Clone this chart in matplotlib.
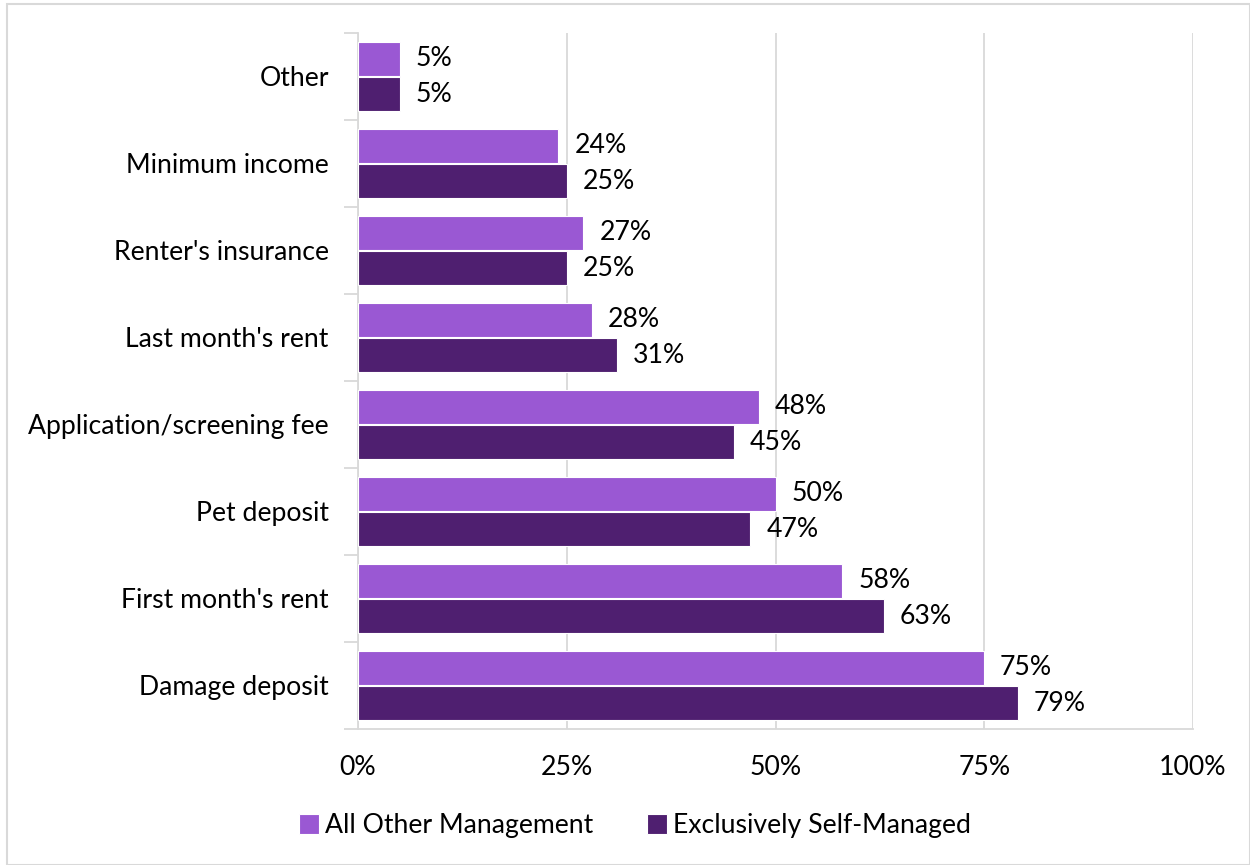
import matplotlib
matplotlib.use("Agg")
import matplotlib.pyplot as plt
from matplotlib.patches import Rectangle
import numpy as np

categories = ["Damage deposit", "First month's rent", "Pet deposit",
              "Application/screening fee", "Last month's rent",
              "Renter's insurance", "Minimum income", "Other"]
all_other = [75, 58, 50, 48, 28, 27, 24, 5]
self_managed = [79, 63, 47, 45, 31, 25, 25, 5]
series_names = ["All Other Management", "Exclusively Self-Managed"]
xticks = [0, 25, 50, 75, 100]
xtick_labels = ["0%", "25%", "50%", "75%", "100%"]

c_light = "#9A58D3"
c_dark = "#4F1F70"
grid_c = "#D9D9D9"
FS = 19.2

plt.rcParams['font.family'] = ['Lato', 'DejaVu Sans']

fig = plt.figure(figsize=(12.5, 8.65), dpi=100)
ax = fig.add_axes([358/1250, 1-729/865, (1193-358)/1250, (729-33)/865])

y = np.arange(len(categories))
h = 0.385
ax.barh(y + h/2 + 0.01, all_other, height=h, color=c_light, edgecolor="white",
        linewidth=0.8, label=series_names[0], zorder=3)
ax.barh(y - h/2 - 0.01, self_managed, height=h, color=c_dark, edgecolor="white",
        linewidth=0.8, label=series_names[1], zorder=3)

for yi, v in zip(y, all_other):
    ax.text(v + 1.9, yi + h/2 + 0.01, f"{v}%", va="center", ha="left", fontsize=FS, color="black")
for yi, v in zip(y, self_managed):
    ax.text(v + 1.9, yi - h/2 - 0.01, f"{v}%", va="center", ha="left", fontsize=FS, color="black")

ax.set_xlim(0, 100)
ax.set_ylim(-0.5, len(categories) - 0.5)
ax.set_xticks(xticks)
ax.set_xticklabels(xtick_labels, fontsize=FS)
ax.set_yticks(y)
ax.set_yticklabels(categories, fontsize=FS)
ax.tick_params(axis="y", length=0, pad=21)
ax.tick_params(axis="x", length=0, pad=19)
# minor ticks at category boundaries on y axis
ax.set_yticks(np.arange(-0.5, len(categories), 1), minor=True)
ax.tick_params(axis="y", which="minor", length=10, color=grid_c, width=1.3)

ax.xaxis.grid(True, color=grid_c, linewidth=1.3, zorder=0)
ax.set_axisbelow(True)
for s in ["top", "right"]:
    ax.spines[s].set_visible(False)
ax.spines["left"].set_color(grid_c)
ax.spines["left"].set_linewidth(1.3)
ax.spines["bottom"].set_color(grid_c)
ax.spines["bottom"].set_linewidth(1.3)

leg = fig.legend(loc="center", bbox_to_anchor=(0.508, 1-826/865), ncol=2, frameon=False,
                 fontsize=FS, handlelength=0.75, handleheight=0.75, handletextpad=0.25,
                 columnspacing=2.0)

fig.patches.append(Rectangle((7/1250, 0), 1 - 7/1250, 1 - 4/865, transform=fig.transFigure,
                             fill=False, edgecolor=grid_c, linewidth=1.5))

fig.savefig("out.png", dpi=100)
